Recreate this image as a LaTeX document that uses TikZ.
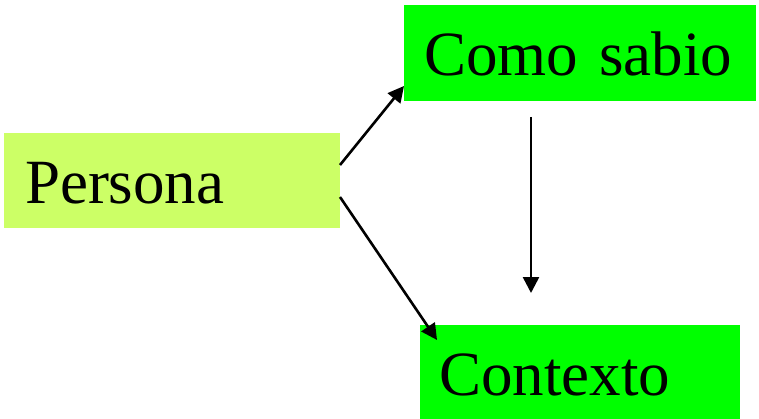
\documentclass[tikz,border=0pt]{standalone}
\usepackage{fontspec}
\setmainfont{Liberation Serif}
\usetikzlibrary{arrows.meta}

\definecolor{lima}{HTML}{CCFF66}
\definecolor{verde}{HTML}{00FF00}

\tikzset{
	caja/.style={anchor=north west, inner ysep=0pt, outer sep=0pt, align=left,
		font=\fontsize{63}{70}\selectfont, text height=46pt, text depth=0pt},
	flecha/.style={line width=2.6pt, -{Triangle[length=16pt,width=16pt]}}
}

\begin{document}
\begin{tikzpicture}[x=1pt, y=-1pt]
	\useasboundingbox (0, 0) rectangle (759, 419);

	% Cajas
	\node[caja, fill=lima, inner xsep=21pt, text width=294pt, minimum height=95pt] (persona) at (4, 133) {Persona};
	\node[caja, fill=verde, inner xsep=20pt, text width=312pt, minimum height=96pt] (sabio) at (404, 5) {Como sabio};
	\node[caja, fill=verde, inner xsep=19pt, text width=282pt, minimum height=95pt] (contexto) at (420, 325) {Contexto};

	% Flechas
	\draw[flecha] ([yshift=15.5pt]persona.east) -- ([yshift=15pt]sabio.south west);
	\draw[flecha] ([yshift=-16.5pt]persona.east) -- ([xshift=17pt,yshift=-15pt]contexto.north west);
	\draw[flecha] ([xshift=-49pt,yshift=-16pt]sabio.south) -- ([xshift=-49pt,yshift=32pt]contexto.north);
\end{tikzpicture}
\end{document}
